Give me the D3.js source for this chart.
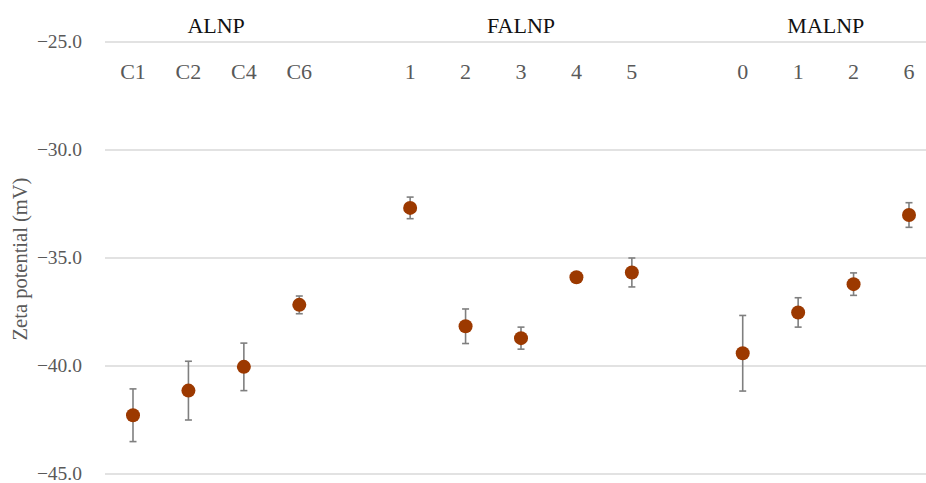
<!DOCTYPE html>
<html>
<head>
<meta charset="utf-8">
<script src="https://cdn.jsdelivr.net/npm/d3@7"></script>
<style>
  body { margin: 0; background: #fff; }
  text { font-family: "Liberation Serif", "Times New Roman", serif; }
</style>
</head>
<body>
<svg id="chart" width="926" height="483"></svg>
<script>
// sample groups and their sub-categories
var groups = ["ALNP", "FALNP", "MALNP"]
var categories = [
  ["C1", "C2", "C4", "C6"],
  ["1", "2", "3", "4", "5"],
  ["0", "1", "2", "6"]
]
// zeta potential means and error (mV)
var means = [
  [-42.28, -41.14, -40.04, -37.17],
  [-32.68, -38.16, -38.71, -35.89, -35.67],
  [-39.41, -37.52, -36.21, -33.01]
]
var errors = [
  [1.22, 1.36, 1.10, 0.41],
  [0.50, 0.80, 0.51, 0.08, 0.67],
  [1.75, 0.68, 0.52, 0.57]
]
var yTicks = [-45, -40, -35, -30, -25]

// flatten into points, leaving one empty slot between groups
var points = []
var groupSpans = []
var slot = 0
groups.forEach(function(g, gi) {
  var start = slot
  categories[gi].forEach(function(c, ci) {
    points.push({group: g, label: c, slot: slot, mean: means[gi][ci], err: errors[gi][ci]})
    slot++
  })
  groupSpans.push({name: g, start: start, end: slot - 1})
  slot++ // gap
})

var svg = d3.select("#chart")
var x = d3.scaleLinear().domain([0, slot - 2]).range([133, 909])
var y = d3.scaleLinear().domain([-45, -25]).range([474, 42])

// gridlines
svg.append("g").selectAll("line")
  .data(yTicks).enter().append("line")
  .attr("x1", 105).attr("x2", 926)
  .attr("y1", function(d) { return y(d) }).attr("y2", function(d) { return y(d) })
  .attr("stroke", "#d9d9d9").attr("stroke-width", 1.3)

// y tick labels
var fmt = d3.format(".1f")
svg.append("g").selectAll("text")
  .data(yTicks).enter().append("text")
  .attr("x", 82).attr("y", function(d) { return y(d) })
  .attr("dy", "0.3em")
  .attr("text-anchor", "end")
  .attr("fill", "#595959")
  .style("font-size", "19.5px")
  .text(function(d) { return fmt(d) })

// y axis title
svg.append("text")
  .attr("transform", "translate(27,259) rotate(-90)")
  .attr("text-anchor", "middle")
  .attr("fill", "#595959")
  .style("font-size", "20.5px")
  .text("Zeta potential (mV)")

// group labels
svg.append("g").selectAll("text")
  .data(groupSpans).enter().append("text")
  .attr("x", function(d) { return (x(d.start) + x(d.end)) / 2 })
  .attr("y", 33)
  .attr("text-anchor", "middle")
  .attr("fill", "#111")
  .style("font-size", "22px")
  .text(function(d) { return d.name })

// category labels
svg.append("g").selectAll("text")
  .data(points).enter().append("text")
  .attr("x", function(d) { return x(d.slot) })
  .attr("y", 79)
  .attr("text-anchor", "middle")
  .attr("fill", "#595959")
  .style("font-size", "22px")
  .text(function(d) { return d.label })

// error bars
var eb = svg.append("g").attr("stroke", "#7f7f7f").attr("stroke-width", 1.6)
points.forEach(function(d) {
  var cx = x(d.slot)
  var top = y(d.mean + d.err), bot = y(d.mean - d.err)
  eb.append("line").attr("x1", cx).attr("x2", cx).attr("y1", top).attr("y2", bot)
  eb.append("line").attr("x1", cx - 3.5).attr("x2", cx + 3.5).attr("y1", top).attr("y2", top)
  eb.append("line").attr("x1", cx - 3.5).attr("x2", cx + 3.5).attr("y1", bot).attr("y2", bot)
})

// markers
svg.append("g").selectAll("circle")
  .data(points).enter().append("circle")
  .attr("cx", function(d) { return x(d.slot) })
  .attr("cy", function(d) { return y(d.mean) })
  .attr("r", 7)
  .attr("fill", "#9c3900")
</script>
</body>
</html>
